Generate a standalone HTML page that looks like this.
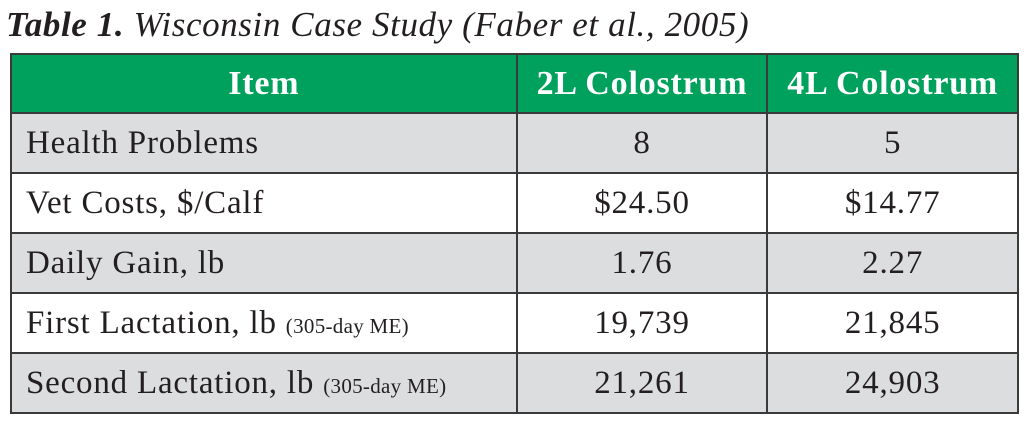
<!DOCTYPE html>
<html><head><style>
body{margin:0;width:1024px;height:425px;background:#fff;overflow:hidden;font-family:"Liberation Serif",serif;color:#231f20}
.title{position:absolute;left:6px;top:5px;font-size:35px;font-style:italic;white-space:nowrap;letter-spacing:0.6px}
.title b{font-weight:bold}
table{position:absolute;left:10px;top:53px;border-collapse:collapse;width:1009px}
td,th{border:2px solid #3a3a3a;font-size:33px;height:58px;padding:0;letter-spacing:0.8px}
th{background:#00a15c;color:#fff;font-weight:bold;height:57px;font-size:34px}
td:first-child{text-align:left;padding-left:14px}
td{text-align:center}
tr.g td{background:#dcdddf}
small{font-size:21px;letter-spacing:0.3px}
</style></head><body>
<div class="title"><b>Table 1.</b> Wisconsin Case Study (Faber et al., 2005)</div>
<table>
<colgroup><col style="width:507px"><col style="width:251px"><col style="width:251px"></colgroup>
<tr><th>Item</th><th>2L Colostrum</th><th>4L Colostrum</th></tr>
<tr class="g"><td>Health Problems</td><td>8</td><td>5</td></tr>
<tr><td>Vet Costs, $/Calf</td><td>$24.50</td><td>$14.77</td></tr>
<tr class="g"><td>Daily Gain, lb</td><td>1.76</td><td>2.27</td></tr>
<tr><td>First Lactation, lb <small>(305-day ME)</small></td><td>19,739</td><td>21,845</td></tr>
<tr class="g"><td>Second Lactation, lb <small>(305-day ME)</small></td><td>21,261</td><td>24,903</td></tr>
</table>
</body></html>
